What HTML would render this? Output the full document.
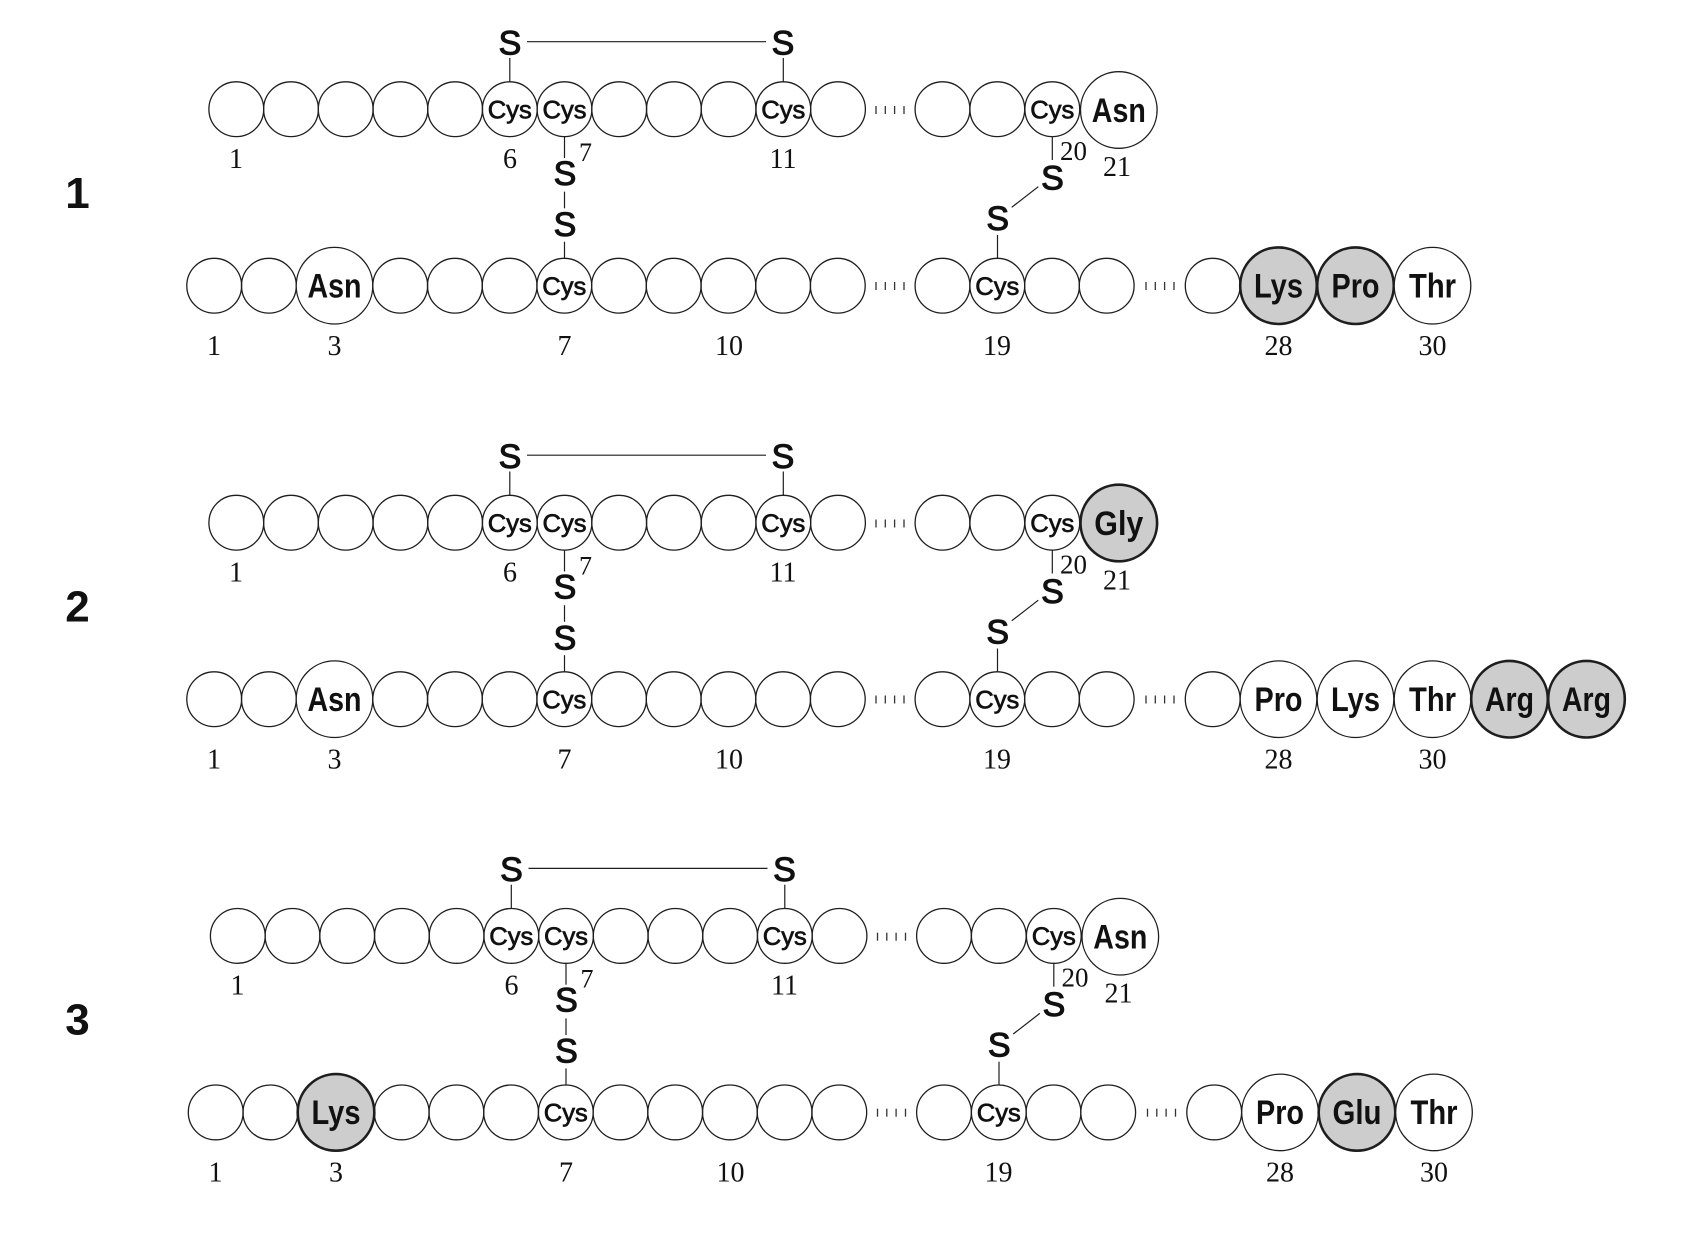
<!DOCTYPE html>
<html>
<head>
<meta charset="utf-8">
<style>
html,body{margin:0;padding:0;background:#fff;}
svg{display:block;}
.c{fill:none;stroke:#1e1e1e;stroke-width:1.3;}
.w{fill:#fff;stroke:#1e1e1e;stroke-width:1.3;}
.g{fill:#cdcdcd;stroke:#1e1e1e;stroke-width:2.6;}
.l{stroke:#1e1e1e;stroke-width:1.2;fill:none;}
.d{stroke:#333;stroke-width:1.3;}
.cy{font-family:"Liberation Sans",sans-serif;font-size:25px;fill:#111;stroke:#111;stroke-width:0.7;text-anchor:middle;}
.b{font-family:"Liberation Sans",sans-serif;font-weight:bold;font-size:34px;fill:#111;text-anchor:middle;}
.s{font-family:"Liberation Sans",sans-serif;font-size:34px;fill:#111;stroke:#111;stroke-width:1.1;text-anchor:middle;}
.n{font-family:"Liberation Serif",serif;font-size:28px;fill:#111;text-anchor:middle;}
.r{font-family:"Liberation Sans",sans-serif;font-weight:bold;font-size:44px;fill:#111;text-anchor:middle;}
</style>
</head>
<body>
<svg width="1690" height="1234" viewBox="0 0 1690 1234" xmlns="http://www.w3.org/2000/svg">

<!-- ================= ROW 1 ================= -->
<g transform="translate(0,0)">
  <text class="r" x="77.5" y="208">1</text>
  <line class="l" x1="527" y1="41.7" x2="766" y2="41.7"/>
  <text class="s" x="510" y="54.5">S</text>
  <text class="s" x="783" y="54.5">S</text>
  <line class="l" x1="509.8" y1="58" x2="509.8" y2="81.8"/>
  <line class="l" x1="783.3" y1="58" x2="783.3" y2="81.8"/>
  <circle class="c" cx="236.3" cy="109.2" r="27.4"/>
  <circle class="c" cx="291" cy="109.2" r="27.4"/>
  <circle class="c" cx="345.7" cy="109.2" r="27.4"/>
  <circle class="c" cx="400.4" cy="109.2" r="27.4"/>
  <circle class="c" cx="455.1" cy="109.2" r="27.4"/>
  <circle class="c" cx="509.8" cy="109.2" r="27.4"/>
  <circle class="c" cx="564.5" cy="109.2" r="27.4"/>
  <circle class="c" cx="619.2" cy="109.2" r="27.4"/>
  <circle class="c" cx="673.9" cy="109.2" r="27.4"/>
  <circle class="c" cx="728.6" cy="109.2" r="27.4"/>
  <circle class="c" cx="783.3" cy="109.2" r="27.4"/>
  <circle class="c" cx="838" cy="109.2" r="27.4"/>
  <line class="d" x1="876" y1="106" x2="876" y2="114"/>
  <line class="d" x1="885.3" y1="106" x2="885.3" y2="114"/>
  <line class="d" x1="894.6" y1="106" x2="894.6" y2="114"/>
  <line class="d" x1="904" y1="106" x2="904" y2="114"/>
  <circle class="c" cx="942.5" cy="109.2" r="27.4"/>
  <circle class="c" cx="997.3" cy="109.2" r="27.4"/>
  <circle class="c" cx="1052.3" cy="109.2" r="27.4"/>
  <circle class="w" cx="1118.8" cy="110" r="38.3"/>
  <text class="cy" x="509.8" y="118.3" textLength="44" lengthAdjust="spacingAndGlyphs">Cys</text>
  <text class="cy" x="564.5" y="118.3" textLength="44" lengthAdjust="spacingAndGlyphs">Cys</text>
  <text class="cy" x="783.3" y="118.3" textLength="44" lengthAdjust="spacingAndGlyphs">Cys</text>
  <text class="cy" x="1052.3" y="118.3" textLength="44" lengthAdjust="spacingAndGlyphs">Cys</text>
  <text class="b" x="1118.8" y="122" textLength="54" lengthAdjust="spacingAndGlyphs">Asn</text>
  <text class="n" x="236" y="168">1</text>
  <text class="n" x="510" y="168">6</text>
  <text class="n" x="783" y="168">11</text>
  <text class="n" x="585.5" y="161" style="font-size:26px">7</text>
  <text class="n" x="1073.5" y="160" style="font-size:27px">20</text>
  <text class="n" x="1117" y="176">21</text>
  <line class="l" x1="564.5" y1="136.6" x2="564.5" y2="158"/>
  <text class="s" x="565" y="185">S</text>
  <line class="l" x1="564.5" y1="191.7" x2="564.5" y2="208.3"/>
  <text class="s" x="565" y="236">S</text>
  <line class="l" x1="564.5" y1="241.7" x2="564.5" y2="258.3"/>
  <line class="l" x1="1052.3" y1="136.6" x2="1052.3" y2="160"/>
  <text class="s" x="1052.5" y="189.5">S</text>
  <line class="l" x1="1038.3" y1="186.7" x2="1011.7" y2="207.3"/>
  <text class="s" x="997.7" y="230">S</text>
  <line class="l" x1="997.5" y1="235" x2="997.5" y2="258.3"/>
  <circle class="c" cx="214.2" cy="285.7" r="27.4"/>
  <circle class="c" cx="268.9" cy="285.7" r="27.4"/>
  <circle class="w" cx="334.5" cy="285.7" r="38.3"/>
  <circle class="c" cx="400.2" cy="285.7" r="27.4"/>
  <circle class="c" cx="454.9" cy="285.7" r="27.4"/>
  <circle class="c" cx="509.6" cy="285.7" r="27.4"/>
  <circle class="c" cx="564.3" cy="285.7" r="27.4"/>
  <circle class="c" cx="619" cy="285.7" r="27.4"/>
  <circle class="c" cx="673.7" cy="285.7" r="27.4"/>
  <circle class="c" cx="728.4" cy="285.7" r="27.4"/>
  <circle class="c" cx="783.1" cy="285.7" r="27.4"/>
  <circle class="c" cx="837.8" cy="285.7" r="27.4"/>
  <line class="d" x1="876" y1="282" x2="876" y2="290"/>
  <line class="d" x1="885.3" y1="282" x2="885.3" y2="290"/>
  <line class="d" x1="894.6" y1="282" x2="894.6" y2="290"/>
  <line class="d" x1="904" y1="282" x2="904" y2="290"/>
  <circle class="c" cx="942.5" cy="285.7" r="27.4"/>
  <circle class="c" cx="997.3" cy="285.7" r="27.4"/>
  <circle class="c" cx="1052" cy="285.7" r="27.4"/>
  <circle class="c" cx="1106.7" cy="285.7" r="27.4"/>
  <line class="d" x1="1146" y1="282" x2="1146" y2="290"/>
  <line class="d" x1="1155.3" y1="282" x2="1155.3" y2="290"/>
  <line class="d" x1="1164.6" y1="282" x2="1164.6" y2="290"/>
  <line class="d" x1="1174" y1="282" x2="1174" y2="290"/>
  <circle class="c" cx="1212.7" cy="285.7" r="27.4"/>
  <circle class="g" cx="1278.5" cy="285.7" r="38.3"/>
  <circle class="g" cx="1355.5" cy="285.7" r="38.3"/>
  <circle class="w" cx="1432.5" cy="285.7" r="38.3"/>
  <text class="b" x="334.5" y="297.5" textLength="54" lengthAdjust="spacingAndGlyphs">Asn</text>
  <text class="cy" x="564.3" y="294.8" textLength="44" lengthAdjust="spacingAndGlyphs">Cys</text>
  <text class="cy" x="997.3" y="294.8" textLength="44" lengthAdjust="spacingAndGlyphs">Cys</text>
  <text class="b" x="1278.5" y="297.5" textLength="49" lengthAdjust="spacingAndGlyphs">Lys</text>
  <text class="b" x="1355.5" y="297.5" textLength="48" lengthAdjust="spacingAndGlyphs">Pro</text>
  <text class="b" x="1432.5" y="297.5" textLength="47" lengthAdjust="spacingAndGlyphs">Thr</text>
  <text class="n" x="214" y="355">1</text>
  <text class="n" x="334.5" y="355">3</text>
  <text class="n" x="564.5" y="355">7</text>
  <text class="n" x="729" y="355">10</text>
  <text class="n" x="997" y="355">19</text>
  <text class="n" x="1278.5" y="355">28</text>
  <text class="n" x="1432.5" y="355">30</text>
</g>

<!-- ================= ROW 2 ================= -->
<g transform="translate(0,413.5)">
  <text class="r" x="77.5" y="208">2</text>
  <line class="l" x1="527" y1="41.7" x2="766" y2="41.7"/>
  <text class="s" x="510" y="54.5">S</text>
  <text class="s" x="783" y="54.5">S</text>
  <line class="l" x1="509.8" y1="58" x2="509.8" y2="81.8"/>
  <line class="l" x1="783.3" y1="58" x2="783.3" y2="81.8"/>
  <circle class="c" cx="236.3" cy="109.2" r="27.4"/>
  <circle class="c" cx="291" cy="109.2" r="27.4"/>
  <circle class="c" cx="345.7" cy="109.2" r="27.4"/>
  <circle class="c" cx="400.4" cy="109.2" r="27.4"/>
  <circle class="c" cx="455.1" cy="109.2" r="27.4"/>
  <circle class="c" cx="509.8" cy="109.2" r="27.4"/>
  <circle class="c" cx="564.5" cy="109.2" r="27.4"/>
  <circle class="c" cx="619.2" cy="109.2" r="27.4"/>
  <circle class="c" cx="673.9" cy="109.2" r="27.4"/>
  <circle class="c" cx="728.6" cy="109.2" r="27.4"/>
  <circle class="c" cx="783.3" cy="109.2" r="27.4"/>
  <circle class="c" cx="838" cy="109.2" r="27.4"/>
  <line class="d" x1="876" y1="106" x2="876" y2="114"/>
  <line class="d" x1="885.3" y1="106" x2="885.3" y2="114"/>
  <line class="d" x1="894.6" y1="106" x2="894.6" y2="114"/>
  <line class="d" x1="904" y1="106" x2="904" y2="114"/>
  <circle class="c" cx="942.5" cy="109.2" r="27.4"/>
  <circle class="c" cx="997.3" cy="109.2" r="27.4"/>
  <circle class="c" cx="1052.3" cy="109.2" r="27.4"/>
  <circle class="g" cx="1118.8" cy="109.5" r="38.3"/>
  <text class="cy" x="509.8" y="118.3" textLength="44" lengthAdjust="spacingAndGlyphs">Cys</text>
  <text class="cy" x="564.5" y="118.3" textLength="44" lengthAdjust="spacingAndGlyphs">Cys</text>
  <text class="cy" x="783.3" y="118.3" textLength="44" lengthAdjust="spacingAndGlyphs">Cys</text>
  <text class="cy" x="1052.3" y="118.3" textLength="44" lengthAdjust="spacingAndGlyphs">Cys</text>
  <text class="b" x="1118.8" y="121.5" textLength="49" lengthAdjust="spacingAndGlyphs">Gly</text>
  <text class="n" x="236" y="168">1</text>
  <text class="n" x="510" y="168">6</text>
  <text class="n" x="783" y="168">11</text>
  <text class="n" x="585.5" y="161" style="font-size:26px">7</text>
  <text class="n" x="1073.5" y="160" style="font-size:27px">20</text>
  <text class="n" x="1117" y="176">21</text>
  <line class="l" x1="564.5" y1="136.6" x2="564.5" y2="158"/>
  <text class="s" x="565" y="185">S</text>
  <line class="l" x1="564.5" y1="191.7" x2="564.5" y2="208.3"/>
  <text class="s" x="565" y="236">S</text>
  <line class="l" x1="564.5" y1="241.7" x2="564.5" y2="258.3"/>
  <line class="l" x1="1052.3" y1="136.6" x2="1052.3" y2="160"/>
  <text class="s" x="1052.5" y="189.5">S</text>
  <line class="l" x1="1038.3" y1="186.7" x2="1011.7" y2="207.3"/>
  <text class="s" x="997.7" y="230">S</text>
  <line class="l" x1="997.5" y1="235" x2="997.5" y2="258.3"/>
  <circle class="c" cx="214.2" cy="285.7" r="27.4"/>
  <circle class="c" cx="268.9" cy="285.7" r="27.4"/>
  <circle class="w" cx="334.5" cy="285.7" r="38.3"/>
  <circle class="c" cx="400.2" cy="285.7" r="27.4"/>
  <circle class="c" cx="454.9" cy="285.7" r="27.4"/>
  <circle class="c" cx="509.6" cy="285.7" r="27.4"/>
  <circle class="c" cx="564.3" cy="285.7" r="27.4"/>
  <circle class="c" cx="619" cy="285.7" r="27.4"/>
  <circle class="c" cx="673.7" cy="285.7" r="27.4"/>
  <circle class="c" cx="728.4" cy="285.7" r="27.4"/>
  <circle class="c" cx="783.1" cy="285.7" r="27.4"/>
  <circle class="c" cx="837.8" cy="285.7" r="27.4"/>
  <line class="d" x1="876" y1="282" x2="876" y2="290"/>
  <line class="d" x1="885.3" y1="282" x2="885.3" y2="290"/>
  <line class="d" x1="894.6" y1="282" x2="894.6" y2="290"/>
  <line class="d" x1="904" y1="282" x2="904" y2="290"/>
  <circle class="c" cx="942.5" cy="285.7" r="27.4"/>
  <circle class="c" cx="997.3" cy="285.7" r="27.4"/>
  <circle class="c" cx="1052" cy="285.7" r="27.4"/>
  <circle class="c" cx="1106.7" cy="285.7" r="27.4"/>
  <line class="d" x1="1146" y1="282" x2="1146" y2="290"/>
  <line class="d" x1="1155.3" y1="282" x2="1155.3" y2="290"/>
  <line class="d" x1="1164.6" y1="282" x2="1164.6" y2="290"/>
  <line class="d" x1="1174" y1="282" x2="1174" y2="290"/>
  <circle class="c" cx="1212.7" cy="285.7" r="27.4"/>
  <circle class="w" cx="1278.5" cy="285.7" r="38.3"/>
  <circle class="w" cx="1355.5" cy="285.7" r="38.3"/>
  <circle class="w" cx="1432.5" cy="285.7" r="38.3"/>
  <circle class="g" cx="1509.5" cy="285.7" r="38.3"/>
  <circle class="g" cx="1586.5" cy="285.7" r="38.3"/>
  <text class="b" x="334.5" y="297.5" textLength="54" lengthAdjust="spacingAndGlyphs">Asn</text>
  <text class="cy" x="564.3" y="294.8" textLength="44" lengthAdjust="spacingAndGlyphs">Cys</text>
  <text class="cy" x="997.3" y="294.8" textLength="44" lengthAdjust="spacingAndGlyphs">Cys</text>
  <text class="b" x="1278.5" y="297.5" textLength="48" lengthAdjust="spacingAndGlyphs">Pro</text>
  <text class="b" x="1355.5" y="297.5" textLength="49" lengthAdjust="spacingAndGlyphs">Lys</text>
  <text class="b" x="1432.5" y="297.5" textLength="47" lengthAdjust="spacingAndGlyphs">Thr</text>
  <text class="b" x="1509.5" y="297.5" textLength="49" lengthAdjust="spacingAndGlyphs">Arg</text>
  <text class="b" x="1586.5" y="297.5" textLength="49" lengthAdjust="spacingAndGlyphs">Arg</text>
  <text class="n" x="214" y="355">1</text>
  <text class="n" x="334.5" y="355">3</text>
  <text class="n" x="564.5" y="355">7</text>
  <text class="n" x="729" y="355">10</text>
  <text class="n" x="997" y="355">19</text>
  <text class="n" x="1278.5" y="355">28</text>
  <text class="n" x="1432.5" y="355">30</text>
</g>

<!-- ================= ROW 3 ================= -->
<g transform="translate(1.5,826.7)">
  <text class="r" x="76" y="208">3</text>
  <line class="l" x1="527" y1="41.7" x2="766" y2="41.7"/>
  <text class="s" x="510" y="54.5">S</text>
  <text class="s" x="783" y="54.5">S</text>
  <line class="l" x1="509.8" y1="58" x2="509.8" y2="81.8"/>
  <line class="l" x1="783.3" y1="58" x2="783.3" y2="81.8"/>
  <circle class="c" cx="236.3" cy="109.2" r="27.4"/>
  <circle class="c" cx="291" cy="109.2" r="27.4"/>
  <circle class="c" cx="345.7" cy="109.2" r="27.4"/>
  <circle class="c" cx="400.4" cy="109.2" r="27.4"/>
  <circle class="c" cx="455.1" cy="109.2" r="27.4"/>
  <circle class="c" cx="509.8" cy="109.2" r="27.4"/>
  <circle class="c" cx="564.5" cy="109.2" r="27.4"/>
  <circle class="c" cx="619.2" cy="109.2" r="27.4"/>
  <circle class="c" cx="673.9" cy="109.2" r="27.4"/>
  <circle class="c" cx="728.6" cy="109.2" r="27.4"/>
  <circle class="c" cx="783.3" cy="109.2" r="27.4"/>
  <circle class="c" cx="838" cy="109.2" r="27.4"/>
  <line class="d" x1="876" y1="106" x2="876" y2="114"/>
  <line class="d" x1="885.3" y1="106" x2="885.3" y2="114"/>
  <line class="d" x1="894.6" y1="106" x2="894.6" y2="114"/>
  <line class="d" x1="904" y1="106" x2="904" y2="114"/>
  <circle class="c" cx="942.5" cy="109.2" r="27.4"/>
  <circle class="c" cx="997.3" cy="109.2" r="27.4"/>
  <circle class="c" cx="1052.3" cy="109.2" r="27.4"/>
  <circle class="w" cx="1118.8" cy="110" r="38.3"/>
  <text class="cy" x="509.8" y="118.3" textLength="44" lengthAdjust="spacingAndGlyphs">Cys</text>
  <text class="cy" x="564.5" y="118.3" textLength="44" lengthAdjust="spacingAndGlyphs">Cys</text>
  <text class="cy" x="783.3" y="118.3" textLength="44" lengthAdjust="spacingAndGlyphs">Cys</text>
  <text class="cy" x="1052.3" y="118.3" textLength="44" lengthAdjust="spacingAndGlyphs">Cys</text>
  <text class="b" x="1118.8" y="122" textLength="54" lengthAdjust="spacingAndGlyphs">Asn</text>
  <text class="n" x="236" y="168">1</text>
  <text class="n" x="510" y="168">6</text>
  <text class="n" x="783" y="168">11</text>
  <text class="n" x="585.5" y="161" style="font-size:26px">7</text>
  <text class="n" x="1073.5" y="160" style="font-size:27px">20</text>
  <text class="n" x="1117" y="176">21</text>
  <line class="l" x1="564.5" y1="136.6" x2="564.5" y2="158"/>
  <text class="s" x="565" y="185">S</text>
  <line class="l" x1="564.5" y1="191.7" x2="564.5" y2="208.3"/>
  <text class="s" x="565" y="236">S</text>
  <line class="l" x1="564.5" y1="241.7" x2="564.5" y2="258.3"/>
  <line class="l" x1="1052.3" y1="136.6" x2="1052.3" y2="160"/>
  <text class="s" x="1052.5" y="189.5">S</text>
  <line class="l" x1="1038.3" y1="186.7" x2="1011.7" y2="207.3"/>
  <text class="s" x="997.7" y="230">S</text>
  <line class="l" x1="997.5" y1="235" x2="997.5" y2="258.3"/>
  <circle class="c" cx="214.2" cy="285.7" r="27.4"/>
  <circle class="c" cx="268.9" cy="285.7" r="27.4"/>
  <circle class="g" cx="334.5" cy="285.7" r="38.3"/>
  <circle class="c" cx="400.2" cy="285.7" r="27.4"/>
  <circle class="c" cx="454.9" cy="285.7" r="27.4"/>
  <circle class="c" cx="509.6" cy="285.7" r="27.4"/>
  <circle class="c" cx="564.3" cy="285.7" r="27.4"/>
  <circle class="c" cx="619" cy="285.7" r="27.4"/>
  <circle class="c" cx="673.7" cy="285.7" r="27.4"/>
  <circle class="c" cx="728.4" cy="285.7" r="27.4"/>
  <circle class="c" cx="783.1" cy="285.7" r="27.4"/>
  <circle class="c" cx="837.8" cy="285.7" r="27.4"/>
  <line class="d" x1="876" y1="282" x2="876" y2="290"/>
  <line class="d" x1="885.3" y1="282" x2="885.3" y2="290"/>
  <line class="d" x1="894.6" y1="282" x2="894.6" y2="290"/>
  <line class="d" x1="904" y1="282" x2="904" y2="290"/>
  <circle class="c" cx="942.5" cy="285.7" r="27.4"/>
  <circle class="c" cx="997.3" cy="285.7" r="27.4"/>
  <circle class="c" cx="1052" cy="285.7" r="27.4"/>
  <circle class="c" cx="1106.7" cy="285.7" r="27.4"/>
  <line class="d" x1="1146" y1="282" x2="1146" y2="290"/>
  <line class="d" x1="1155.3" y1="282" x2="1155.3" y2="290"/>
  <line class="d" x1="1164.6" y1="282" x2="1164.6" y2="290"/>
  <line class="d" x1="1174" y1="282" x2="1174" y2="290"/>
  <circle class="c" cx="1212.7" cy="285.7" r="27.4"/>
  <circle class="w" cx="1278.5" cy="285.7" r="38.3"/>
  <circle class="g" cx="1355.5" cy="285.7" r="38.3"/>
  <circle class="w" cx="1432.5" cy="285.7" r="38.3"/>
  <text class="b" x="334.5" y="297.5" textLength="49" lengthAdjust="spacingAndGlyphs">Lys</text>
  <text class="cy" x="564.3" y="294.8" textLength="44" lengthAdjust="spacingAndGlyphs">Cys</text>
  <text class="cy" x="997.3" y="294.8" textLength="44" lengthAdjust="spacingAndGlyphs">Cys</text>
  <text class="b" x="1278.5" y="297.5" textLength="48" lengthAdjust="spacingAndGlyphs">Pro</text>
  <text class="b" x="1355.5" y="297.5" textLength="49" lengthAdjust="spacingAndGlyphs">Glu</text>
  <text class="b" x="1432.5" y="297.5" textLength="47" lengthAdjust="spacingAndGlyphs">Thr</text>
  <text class="n" x="214" y="355">1</text>
  <text class="n" x="334.5" y="355">3</text>
  <text class="n" x="564.5" y="355">7</text>
  <text class="n" x="729" y="355">10</text>
  <text class="n" x="997" y="355">19</text>
  <text class="n" x="1278.5" y="355">28</text>
  <text class="n" x="1432.5" y="355">30</text>
</g>

</svg>
</body>
</html>
